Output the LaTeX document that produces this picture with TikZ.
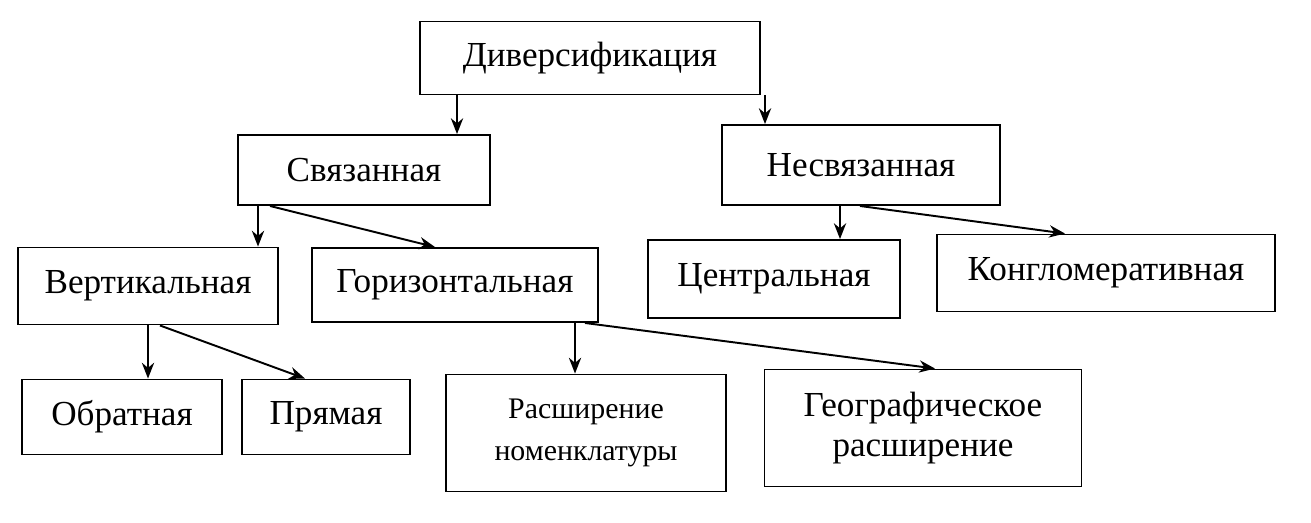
\documentclass[tikz,border=0pt]{standalone}
\usepackage{fontspec}
\setmainfont{Liberation Serif}
\usetikzlibrary{calc,arrows.meta}
\tikzset{
    block/.style = {draw, rectangle, line width=1.1pt, inner sep=2pt,
        font=\fontsize{20}{23}\selectfont, align=center},
    arrow/.style = {draw, line width=1.1pt, -{Stealth[length=9pt,width=7pt]}}
}
\begin{document}
\begin{tikzpicture}[x=0.02cm,y=-0.02cm]
    \useasboundingbox (0,0) rectangle (1311,522);
    \node[block,minimum width=340*0.02cm,minimum height=73*0.02cm] (div) at (590,58) {Диверсификация};
    \node[block,minimum width=252*0.02cm,minimum height=70*0.02cm] (sv) at (364,170) {Связанная};
    \node[block,minimum width=278*0.02cm,minimum height=80*0.02cm] (nesv) at (861,165) {Несвязанная};
    \node[block,minimum width=260*0.02cm,minimum height=77*0.02cm] (vert) at (148,286) {Вертикальная};
    \node[block,minimum width=286*0.02cm,minimum height=74*0.02cm] (hor) at (455,285) {Горизонтальная};
    \node[block,minimum width=252*0.02cm,minimum height=78*0.02cm] (centr) at (774,279) {Центральная};
    \node[block,minimum width=338*0.02cm,minimum height=77*0.02cm] (kong) at (1106,273) {Конгломеративная};
    \node[block,minimum width=200*0.02cm,minimum height=75*0.02cm] (obr) at (122,417) {Обратная};
    \node[block,minimum width=168*0.02cm,minimum height=75*0.02cm] (pr) at (326,417) {Прямая};
    \node[block,minimum width=280*0.02cm,minimum height=117*0.02cm,font=\fontsize{17}{24}\selectfont] (nom) at (586,433) {Расширение\\номенклатуры};
    \node[block,minimum width=317*0.02cm,minimum height=117*0.02cm] (geo) at (923,428) {Географическое\\расширение};
    % arrows
    \draw[arrow] ($(div.south)+(-133,0)$) -- ($(sv.north)+(93,0)$);
    \draw[arrow] ($(div.south)+(175,0)$) -- ($(nesv.north)+(-96,0)$);
    \draw[arrow] ($(sv.south)+(-106,0)$) -- ($(vert.north)+(110,0)$);
    \draw[arrow] ($(sv.south)+(-94,0)$) -- ($(hor.north)+(-20,0)$);
    \draw[arrow] ($(nesv.south)+(-21,0)$) -- ($(centr.north)+(66,0)$);
    \draw[arrow] ($(nesv.south)+(-1,0)$) -- ($(kong.north)+(-41,0)$);
    \draw[arrow] ($(vert.south)+(0,0)$) -- ($(obr.north)+(26,0)$);
    \draw[arrow] ($(vert.south)+(12,0)$) -- ($(pr.north)+(-21,0)$);
    \draw[arrow] ($(hor.south)+(120,0)$) -- ($(nom.north)+(-11,0)$);
    \draw[arrow] ($(hor.south)+(130,0)$) -- ($(geo.north)+(12,0)$);
\end{tikzpicture}
\end{document}
